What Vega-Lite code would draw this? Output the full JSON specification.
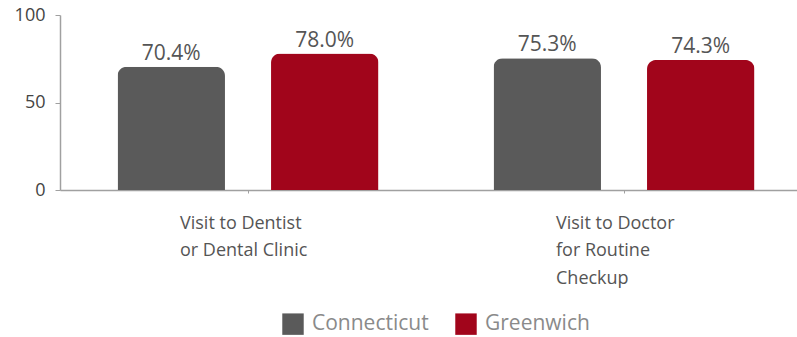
{
  "$schema": "https://vega.github.io/schema/vega-lite/v6.json",
  "width": 752,
  "height": 175,
  "autosize": {"type": "none"},
  "padding": {"left": 60, "top": 15, "right": 0, "bottom": 147},
  "background": "white",
  "config": {
    "view": {"stroke": null},
    "font": "Open Sans",
    "axis": {"grid": false, "domainColor": "#a0a0a0", "tickColor": "#a0a0a0"}
  },
  "data": {
    "values": [
      {"category": "Dentist", "series": "Connecticut", "value": 70.4, "label": "70.4%"},
      {"category": "Dentist", "series": "Greenwich", "value": 78.0, "label": "78.0%"},
      {"category": "Doctor", "series": "Connecticut", "value": 75.3, "label": "75.3%"},
      {"category": "Doctor", "series": "Greenwich", "value": 74.3, "label": "74.3%"}
    ]
  },
  "encoding": {
    "x": {
      "field": "category",
      "type": "nominal",
      "sort": ["Dentist", "Doctor"],
      "scale": {"paddingInner": 0, "paddingOuter": 0},
      "axis": {
        "title": null,
        "labelAngle": 0,
        "labelExpr": "datum.value == 'Dentist' ? ['Visit to Dentist', 'or Dental Clinic'] : ['Visit to Doctor', 'for Routine', 'Checkup']",
        "labelAlign": "left",
        "labelOffset": -68,
        "labelPadding": 21,
        "labelFontSize": 18,
        "labelLineHeight": 27.5,
        "labelColor": "#555555",
        "tickSize": 3,
        "domainWidth": 1.5
      }
    },
    "xOffset": {
      "field": "series",
      "type": "nominal",
      "sort": ["Connecticut", "Greenwich"],
      "scale": {"paddingInner": 0.3, "paddingOuter": 0.375}
    },
    "y": {
      "field": "value",
      "type": "quantitative",
      "scale": {"domain": [0, 100], "nice": false},
      "axis": {
        "title": null,
        "values": [0, 50, 100],
        "labelFontSize": 18,
        "labelColor": "#444444",
        "tickSize": 5,
        "labelPadding": 10,
        "domainWidth": 1.5
      }
    }
  },
  "layer": [
    {
      "mark": {"type": "bar", "cornerRadiusTopLeft": 9, "cornerRadiusTopRight": 9},
      "encoding": {
        "color": {
          "field": "series",
          "type": "nominal",
          "sort": ["Connecticut", "Greenwich"],
          "scale": {"domain": ["Connecticut", "Greenwich"], "range": ["#5a5a5a", "#a1051b"]},
          "legend": {
            "title": null,
            "orient": "none",
            "direction": "horizontal",
            "legendX": 222,
            "legendY": 298,
            "symbolType": "square",
            "symbolSize": 460,
            "symbolStrokeWidth": 0,
            "labelFontSize": 21,
            "labelColor": "#8a8a8a",
            "labelOffset": 8,
            "columnPadding": 26
          }
        }
      }
    },
    {
      "mark": {"type": "text", "baseline": "bottom", "dy": -3, "fontSize": 21, "color": "#555555"},
      "encoding": {
        "text": {"field": "label", "type": "nominal"}
      }
    }
  ]
}
